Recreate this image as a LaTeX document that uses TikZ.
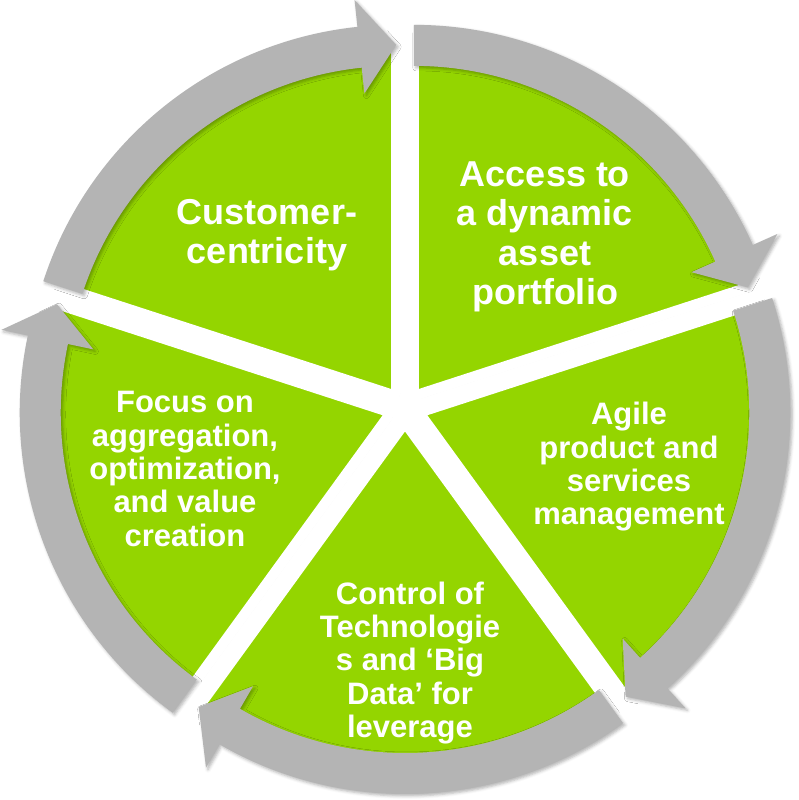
\documentclass[tikz,border=0pt]{standalone}
\usepackage{fontspec}
\setmainfont{Liberation Sans}
\usetikzlibrary{shadows.blur}
\definecolor{leaf}{RGB}{148,213,0}
\definecolor{ringgray}{RGB}{180,180,180}
\newcommand{\leafwedge}[3]{%
  \begin{scope}[shift={(#1:15)}]
    \path[wedge] (0,0) -- (#2:360) arc[start angle=#2, end angle=#3, radius=360] -- cycle;
  \end{scope}}
\newcommand{\grayarc}[3]{%
  \pgfmathsetmacro{\hd}{#3+6}%
  \begin{scope}[shift={(#1:15)}]
    \path[ringarrow] (#2:371) arc[start angle=#2, end angle=\hd, radius=371]
      -- (\hd:398) -- (#3:351) -- (\hd:304) -- (\hd:330)
      arc[start angle=\hd, end angle=#2, radius=330] -- cycle;
  \end{scope}}
\begin{document}
\begin{tikzpicture}[x=1pt,y=1pt,
  wedge/.style={fill=leaf, draw=white, line width=10pt, rounded corners=5pt,
    blur shadow={shadow xshift=1.5pt, shadow yshift=-1.5pt, shadow blur radius=3pt, shadow opacity=30}},
  ringarrow/.style={fill=ringgray,
    blur shadow={shadow xshift=2pt, shadow yshift=-2pt, shadow blur radius=3pt, shadow opacity=30}},
  biglbl/.style={text=white, align=center, font=\fontsize{36}{39.5}\selectfont\bfseries},
  smalllbl/.style={text=white, align=center, font=\fontsize{31}{33.3}\selectfont\bfseries}]
\useasboundingbox (0,0) rectangle (798,800);
\begin{scope}[shift={(405,392)}]
  \leafwedge{126}{162}{90}
  \leafwedge{54}{90}{18}
  \leafwedge{-18}{18}{-54}
  \leafwedge{-90}{-54}{-126}
  \leafwedge{198}{234}{162}
  \grayarc{126}{162}{90}
  \grayarc{54}{90}{18}
  \grayarc{-18}{18}{-54}
  \grayarc{-90}{-54}{-126}
  \grayarc{198}{234}{162}
\end{scope}
\node[biglbl] (cust) at (267,565) {Customer-\\centricity};
\node[biglbl] (access) at (545,563) {Access to\\a dynamic\\asset\\portfolio};
\node[smalllbl] (agile) at (629,333) {Agile\\product and\\services\\management};
\node[smalllbl] (focus) at (185,331) {Focus on\\aggregation,\\optimization,\\and value\\creation};
\node[smalllbl] (control) at (410,137) {Control of\\Technologie\\s and ‘Big\\Data’ for\\leverage};
\end{tikzpicture}
\end{document}
